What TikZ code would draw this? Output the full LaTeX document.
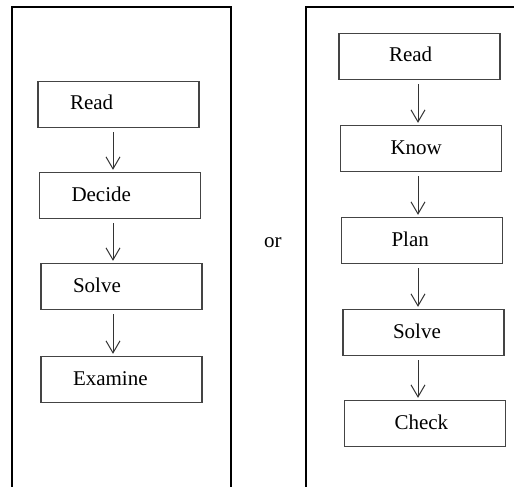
\documentclass[tikz,border=0pt]{standalone}
\usepackage{fontspec}
\setmainfont{Liberation Serif}
\usetikzlibrary{arrows.meta}
\definecolor{boxline}{HTML}{444444}
\definecolor{arrline}{HTML}{333333}
\tikzset{
  frameline/.style={line width=2.4pt, black},
  flowbox/.style={draw=boxline, line width=1.3pt, rectangle, minimum height=46pt,
    text height=11pt, text depth=0pt, align=left,
    font=\fontsize{21}{25}\selectfont},
  leftbox/.style={flowbox, inner xsep=32pt, text width=97pt},
  rightbox/.style={flowbox, inner xsep=50pt, text width=61pt},
  arr/.style={draw=arrline, line width=1pt, -{Straight Barb[length=12pt,width=14pt]}},
}
\begin{document}
\begin{tikzpicture}[x=1pt, y=-1pt]
\useasboundingbox (0,0) rectangle (514,487);
\fill[white] (0,0) rectangle (514,487);
\begin{scope}
\clip (0,0) rectangle (514,487);
\draw[frameline] (12,500) -- (12,7) -- (231,7) -- (231,500);
\draw[frameline] (306,500) -- (306,7) -- (530,7);
\end{scope}
% left column
\node[leftbox] (l1) at (118.5,104.5) {Read};
\node[leftbox] (l2) at (120,195.5) {Decide};
\node[leftbox] (l3) at (121.5,286.5) {Solve};
\node[leftbox] (l4) at (121.5,379.5) {Examine};
\coordinate (la) at (113,0);
\draw[arr] ([yshift=-4pt]l1.south -| la) -- ([yshift=2pt]l2.north -| la);
\draw[arr] ([yshift=-4pt]l2.south -| la) -- ([yshift=2pt]l3.north -| la);
\draw[arr] ([yshift=-4pt]l3.south -| la) -- ([yshift=2pt]l4.north -| la);
% or
\node[anchor=base west, inner sep=0pt, font=\fontsize{21}{25}\selectfont] (or) at (264,247) {or};
% right column
\node[rightbox] (r1) at (419.5,56.5) {Read};
\node[rightbox] (r2) at (421,148.5) {Know};
\node[rightbox] (r3) at (422,240.5) {Plan};
\node[rightbox] (r4) at (423.5,332.5) {Solve};
\node[rightbox] (r5) at (425,423.5) {Check};
\coordinate (ra) at (418,0);
\draw[arr] ([yshift=-4pt]r1.south -| ra) -- ([yshift=2pt]r2.north -| ra);
\draw[arr] ([yshift=-4pt]r2.south -| ra) -- ([yshift=2pt]r3.north -| ra);
\draw[arr] ([yshift=-4pt]r3.south -| ra) -- ([yshift=2pt]r4.north -| ra);
\draw[arr] ([yshift=-4pt]r4.south -| ra) -- ([yshift=2pt]r5.north -| ra);
\end{tikzpicture}
\end{document}
